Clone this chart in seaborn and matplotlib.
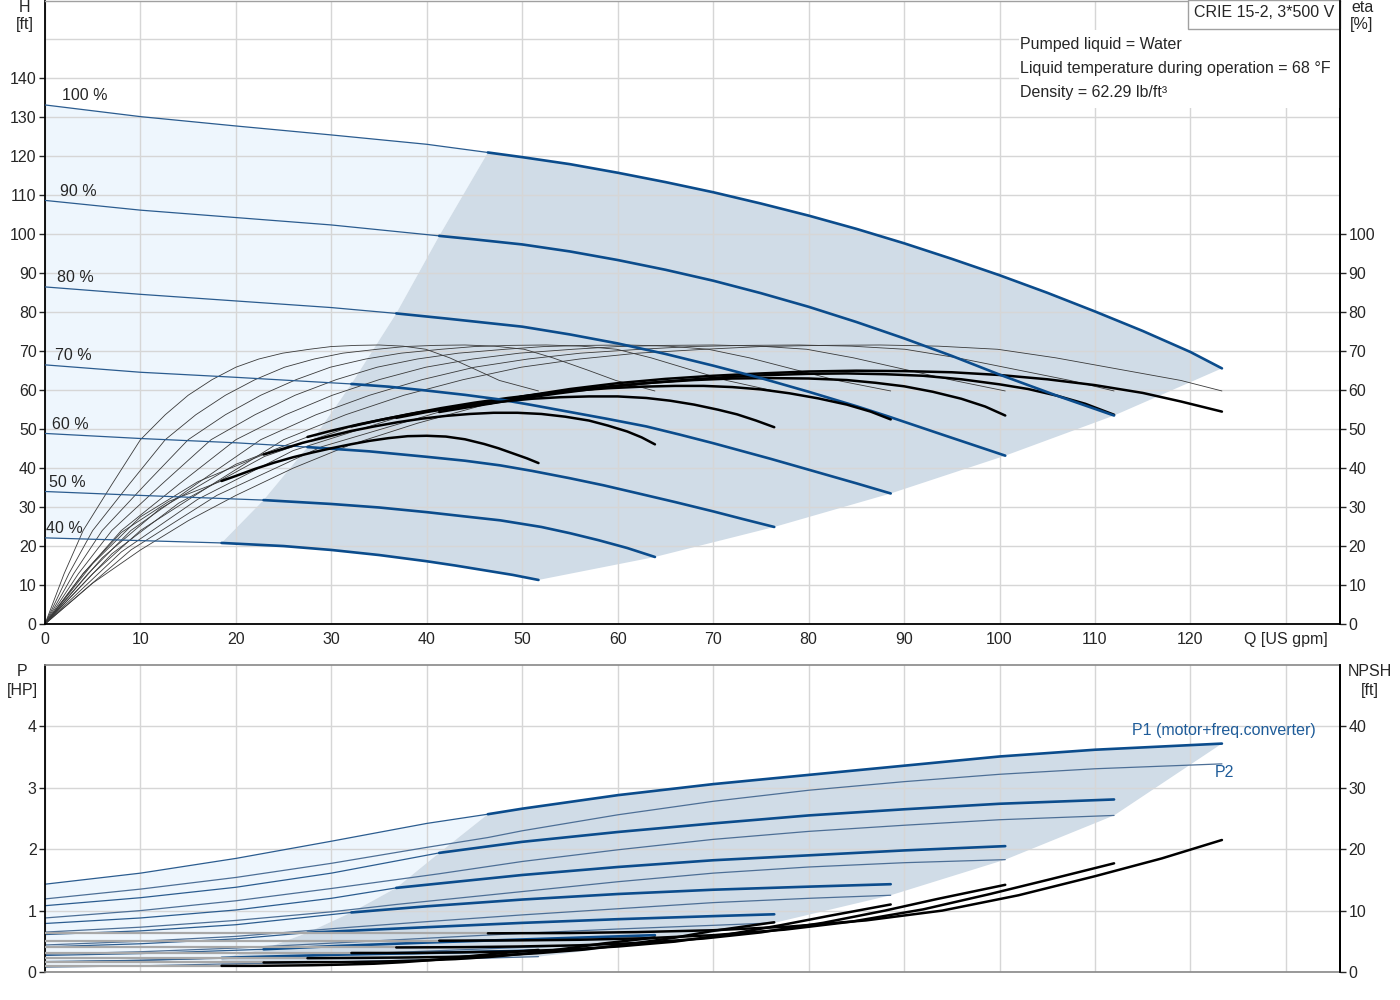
import numpy as np
import seaborn as sns
import matplotlib.pyplot as plt
from matplotlib.patches import Rectangle

# speed curves, from 100 % down to 40 %
speeds = ["100 %", "90 %", "80 %", "70 %", "60 %", "50 %", "40 %"]
q_min = [46.4, 41.3, 36.8, 32.1, 27.5, 22.9, 18.5]

# H [ft] vs Q [US gpm]
qh_q = [
    [0, 10, 20, 30, 40, 46.4, 50, 55, 60, 65, 70, 75, 80, 85, 90, 95, 100, 105, 110, 115, 120, 123.3],
    [0, 10, 20, 30, 41.3, 45, 50, 55, 60, 65, 70, 75, 80, 85, 90, 95, 100, 106, 112],
    [0, 10, 20, 30, 36.8, 42, 50, 55, 60, 65, 70, 75, 80, 85, 88.3, 94, 100.6],
    [0, 10, 20, 32.1, 36, 40, 44, 47.7, 51, 55, 59, 63, 66.5, 70, 73, 76, 79, 82, 85, 88.6],
    [0, 10, 20, 27.5, 34, 40, 44, 47.7, 51, 55, 58.5, 62, 66, 70, 73, 76.4],
    [0, 10, 22.9, 30, 35, 40, 44, 47.7, 52, 55, 58, 61, 63.9],
    [0, 10, 18.5, 25, 30, 35, 40, 43, 46, 49, 51.7],
]
qh_h = [
    [133.2, 130.2, 127.8, 125.5, 123.1, 121.0, 119.8, 118.0, 115.8, 113.4, 110.8, 107.9, 104.8,
     101.4, 97.7, 93.7, 89.5, 85.0, 80.2, 75.2, 69.8, 65.6],
    [108.7, 106.2, 104.3, 102.4, 99.6, 98.7, 97.4, 95.6, 93.4, 90.9, 88.1, 84.9, 81.4, 77.5,
     73.3, 68.8, 64.0, 58.6, 53.5],
    [86.5, 84.6, 82.9, 81.2, 79.7, 78.4, 76.3, 74.3, 72.0, 69.3, 66.3, 63.1, 59.6, 55.9, 53.3,
     48.6, 43.2],
    [66.5, 64.6, 63.3, 61.6, 60.9, 59.9, 58.8, 57.6, 56.2, 54.4, 52.6, 50.7, 48.6, 46.4, 44.4,
     42.4, 40.3, 38.2, 36.1, 33.5],
    [48.9, 47.6, 46.5, 45.4, 44.3, 42.9, 41.9, 40.7, 39.3, 37.4, 35.6, 33.6, 31.3, 28.9, 27.0, 24.9],
    [34.0, 33.0, 31.8, 30.8, 29.9, 28.7, 27.6, 26.6, 24.9, 23.3, 21.5, 19.5, 17.2],
    [22.1, 21.4, 20.8, 20.0, 19.0, 17.7, 16.1, 15.0, 13.8, 12.6, 11.3],
]

# pump efficiency [%] (thin curves), one Q list per speed
etap_q = [
    [0, 5, 10, 17.5, 25, 31.5, 37.6, 43.8, 49.9, 56, 62.1, 69.1, 75, 81.4, 87.5, 93.6, 99.8,
     105.9, 112.9, 119, 123.3],
    [0, 4.5, 9, 15.8, 22.6, 28.4, 34, 39.5, 45, 50.6, 56.1, 62.4, 67.7, 73.5, 79, 84.5, 90.1,
     95.6, 101.9, 107.4, 112],
    [0, 4, 8, 14, 20, 25.2, 30.1, 35, 39.9, 44.8, 49.7, 55.3, 60, 65.1, 70, 74.9, 79.8, 84.7,
     90.3, 95.2, 100.6],
    [0, 3.5, 7, 12.2, 17.4, 22, 26.2, 30.5, 34.8, 39, 43.3, 48.2, 52.3, 56.7, 61, 65.3, 69.5,
     73.8, 78.7, 83, 88.6],
    [0, 3, 6, 10.5, 15, 18.9, 22.6, 26.3, 29.9, 33.6, 37.3, 41.5, 45, 48.8, 52.5, 56.2, 59.9,
     63.5, 67.7, 71.4, 76.4],
    [0, 2.5, 5, 8.8, 12.6, 15.8, 18.9, 22, 25.1, 28.2, 31.2, 34.8, 37.7, 40.9, 44, 47.1, 50.2,
     53.2, 56.8, 59.8, 63.9],
    [0, 2, 4, 7, 10, 12.6, 15, 17.5, 20, 22.4, 24.9, 27.7, 30, 32.6, 35, 37.5, 39.9, 42.4,
     45.2, 47.6, 51.7],
]
etap = [0, 12.9, 24.0, 35.8, 47.3, 53.7, 58.7, 62.7, 65.9, 68.0, 69.5, 70.5, 71.2, 71.5, 71.6,
        71.3, 70.5, 68.3, 65.2, 62.5, 59.8]

# total efficiency [%] (bold inside the operating range)
etat_q = [
    [0, 5, 10, 15, 20, 26, 32, 39, 46.4, 50, 55, 60, 65, 70, 75, 80, 85, 90, 95, 100, 105, 110,
     115, 119, 123.3],
    [0, 9, 18, 29, 41.3, 45, 49, 53.5, 58, 62.5, 67, 71.5, 76, 80, 84, 88, 92, 96, 100, 103, 106,
     109, 112],
    [0, 8, 16, 26, 36.8, 40, 44, 48, 52, 56, 60, 64, 68, 72, 76, 80, 84, 87, 90, 93, 96, 98.5, 100.6],
    [0, 7, 14, 23, 32.1, 35, 38, 41.5, 45, 48.5, 52, 55.5, 59, 62.5, 66, 69, 72, 75, 78, 81, 84,
     86.5, 88.6],
    [0, 6, 12, 20, 27.5, 30, 33, 36, 39, 42, 45, 48, 51, 54, 57, 60, 63, 65.5, 68, 70.5, 72.5,
     74.5, 76.4],
    [0, 5, 10, 16, 22.9, 25, 27, 29.5, 32, 34.5, 37, 39.5, 42, 44.5, 47, 49.5, 52, 54.5, 57, 59,
     61, 62.5, 63.9],
    [0, 4, 8, 13, 18.5, 20, 22, 24, 26, 28, 30, 32, 34, 36, 38, 40, 42, 44, 46, 47.5, 49, 50.5,
     51.7],
]
etat = [
    [0, 10.5, 19, 26.5, 33, 40, 46, 51.5, 56.5, 58.4, 60.3, 61.8, 62.9, 63.7, 64.3, 64.8, 65,
     64.9, 64.6, 63.9, 62.8, 61.3, 59.3, 57.1, 54.5],
    [0, 19, 33, 45.5, 54.4, 55.9, 57.5, 59.1, 60.5, 61.7, 62.6, 63.4, 63.9, 64.2, 64.3, 64.1,
     63.7, 62.8, 61.5, 60.3, 58.6, 56.5, 53.7],
    [0, 18.5, 32, 44.5, 52.9, 54.4, 56, 57.6, 59, 60.2, 61.2, 62, 62.6, 63, 63.1, 63, 62.6, 61.9,
     61, 59.6, 57.8, 55.8, 53.5],
    [0, 18, 31, 43, 50.7, 52.3, 53.8, 55.4, 56.8, 58, 59, 59.9, 60.5, 60.9, 61.1, 61.1, 60.8,
     60.2, 59.2, 57.9, 56.3, 54.5, 52.5],
    [0, 17, 29.5, 41, 48, 49.6, 51.3, 52.8, 54.2, 55.3, 56.3, 57.1, 57.8, 58.2, 58.4, 58.4, 58,
     57.3, 56.3, 55, 53.8, 52.2, 50.5],
    [0, 15.5, 27.5, 36.5, 43.5, 45, 46.5, 48, 49.5, 50.7, 51.8, 52.7, 53.4, 53.9, 54.2, 54.2,
     53.9, 53.2, 52.2, 50.9, 49.4, 47.9, 46.1],
    [0, 13, 23.5, 31.5, 36.7, 38, 39.8, 41.4, 42.8, 44, 45.1, 46.1, 47, 47.7, 48.2, 48.3, 48.1,
     47.4, 46.2, 45.1, 43.8, 42.5, 41.3],
]

# power [HP]
p_q = [
    [0, 10, 20, 30, 40, 46.4, 50, 60, 70, 80, 90, 100, 110, 123.3],
    [0, 10, 20, 30, 41.3, 50, 60, 70, 80, 90, 100, 112],
    [0, 10, 20, 30, 36.8, 50, 60, 70, 80, 90, 100.6],
    [0, 10, 20, 32.1, 40, 50, 60, 70, 80, 88.6],
    [0, 10, 20, 27.5, 40, 50, 60, 70, 76.4],
    [0, 10, 22.9, 30, 40, 50, 63.9],
    [0, 10, 18.5, 30, 40, 51.7],
]
p1 = [
    [1.43, 1.61, 1.85, 2.13, 2.42, 2.57, 2.66, 2.88, 3.06, 3.21, 3.36, 3.51, 3.62, 3.72],
    [1.08, 1.21, 1.38, 1.61, 1.94, 2.12, 2.28, 2.42, 2.55, 2.65, 2.74, 2.81],
    [0.79, 0.88, 1.01, 1.20, 1.37, 1.58, 1.71, 1.82, 1.90, 1.98, 2.05],
    [0.61, 0.67, 0.77, 0.97, 1.07, 1.18, 1.27, 1.34, 1.39, 1.43],
    [0.41, 0.46, 0.54, 0.64, 0.73, 0.80, 0.86, 0.91, 0.94],
    [0.27, 0.30, 0.37, 0.42, 0.48, 0.53, 0.60],
    [0.17, 0.19, 0.23, 0.28, 0.31, 0.35],
]
p2 = [
    [1.19, 1.35, 1.54, 1.77, 2.03, 2.19, 2.30, 2.56, 2.78, 2.96, 3.10, 3.22, 3.31, 3.39],
    [0.88, 1.00, 1.16, 1.36, 1.60, 1.80, 1.99, 2.16, 2.29, 2.39, 2.48, 2.55],
    [0.65, 0.73, 0.84, 0.98, 1.10, 1.31, 1.47, 1.61, 1.71, 1.78, 1.83],
    [0.44, 0.50, 0.58, 0.73, 0.82, 0.93, 1.03, 1.13, 1.20, 1.25],
    [0.29, 0.33, 0.39, 0.45, 0.55, 0.63, 0.70, 0.76, 0.80],
    [0.16, 0.19, 0.24, 0.28, 0.34, 0.40, 0.48],
    [0.08, 0.10, 0.13, 0.16, 0.20, 0.25],
]

# NPSH [ft]
npsh_q = [
    [0, 46.4, 55, 62, 70, 78, 86, 94, 102, 110, 117, 123.3],
    [0, 41.3, 49.5, 56, 63, 70, 77.5, 84.5, 92, 99, 105.3, 112],
    [0, 36.8, 44, 49.5, 56, 62.5, 69, 75, 81.5, 88, 93.5, 100.6],
    [0, 32.1, 38.5, 43.5, 49, 54.5, 60, 66, 71.5, 77, 82, 88.6],
    [0, 27.5, 33, 37, 42, 47, 51.5, 56.5, 61, 66, 70, 76.4],
    [0, 22.9, 27.5, 31, 35, 39, 43, 47, 51, 55, 58.5, 63.9],
    [0, 18.5, 22, 25, 28, 31, 34.5, 37.5, 41, 44, 47, 51.7],
]
npsh = [
    [6.3, 6.3, 6.35, 6.5, 6.8, 7.4, 8.4, 10.0, 12.5, 15.6, 18.5, 21.5],
    [5.1, 5.1, 5.15, 5.25, 5.5, 6.0, 6.9, 8.2, 10.2, 12.7, 15.1, 17.7],
    [4.0, 4.0, 4.05, 4.15, 4.35, 4.75, 5.45, 6.45, 8.0, 10.0, 11.9, 14.2],
    [3.1, 3.1, 3.1, 3.2, 3.35, 3.65, 4.15, 4.95, 6.1, 7.6, 9.1, 11.0],
    [2.25, 2.25, 2.3, 2.35, 2.45, 2.65, 3.05, 3.65, 4.5, 5.6, 6.7, 8.1],
    [1.55, 1.55, 1.6, 1.6, 1.7, 1.85, 2.1, 2.5, 3.1, 3.9, 4.65, 5.6],
    [1.0, 1.0, 1.0, 1.05, 1.1, 1.2, 1.35, 1.6, 2.0, 2.5, 2.95, 3.6],
]

info_lines = ["Pumped liquid = Water",
              "Liquid temperature during operation = 68 °F",
              "Density = 62.29 lb/ft³"]
model = "CRIE 15-2, 3*500 V"

BLUE = "#0b4c8c"
THIN_BLUE = "#2b5c8f"
P2_BLUE = "#4d6f96"
LIGHT = "#eef6fd"
DARK = "#d0dce7"
GRID = "#d6d6d6"

sns.set_style("white")
plt.rcParams["font.family"] = ["Liberation Sans", "DejaVu Sans"]
plt.rcParams["font.size"] = 11.5

fig = plt.figure(figsize=(14, 10), dpi=100)
ax = fig.add_axes([45 / 1400, 0.376, 1295 / 1400, 0.6235])
axb = fig.add_axes([45 / 1400, 0.028, 1295 / 1400, 0.307])

QMAX = 135.67


def split(q, y, qm):
    q = np.asarray(q, float)
    y = np.asarray(y, float)
    lo = q <= qm + 1e-9
    hi = q >= qm - 1e-9
    return (q[lo], y[lo]), (q[hi], y[hi])


def line(a, q, y, color, lw, z=2):
    sns.lineplot(x=q, y=y, ax=a, color=color, lw=lw, sort=False,
                 estimator=None, legend=False, zorder=z)


# ---------------- top panel: H and eta ----------------
top_lo, top_hi = split(qh_q[0], qh_h[0], q_min[0])
bot_lo, bot_hi = split(qh_q[-1], qh_h[-1], q_min[-1])
min_pts = [split(qh_q[i], qh_h[i], q_min[i])[1] for i in range(7)]
min_x = [m[0][0] for m in min_pts]
min_y = [m[1][0] for m in min_pts]
end_x = [qh_q[i][-1] for i in range(7)]
end_y = [qh_h[i][-1] for i in range(7)]

lx = list(top_lo[0]) + min_x[1:] + list(bot_lo[0][::-1])
ly = list(top_lo[1]) + min_y[1:] + list(bot_lo[1][::-1])
ax.fill(lx, ly, color=LIGHT, lw=0, zorder=0.2)
dx = list(top_hi[0]) + end_x[1:] + list(bot_hi[0][::-1]) + min_x[::-1][1:]
dy = list(top_hi[1]) + end_y[1:] + list(bot_hi[1][::-1]) + min_y[::-1][1:]
ax.fill(dx, dy, color=DARK, lw=0, zorder=0.2)

for i in range(7):
    line(ax, etap_q[i], etap, "#3a3a3a", 0.6)
    (ql, el), (qh, eh) = split(etat_q[i], etat[i], q_min[i])
    line(ax, ql, el, "#3a3a3a", 0.6)
    line(ax, qh, eh, "black", 1.8, z=3)
    (ql, hl), (qh, hh) = split(qh_q[i], qh_h[i], q_min[i])
    line(ax, ql, hl, THIN_BLUE, 0.9, z=3)
    line(ax, qh, hh, BLUE, 1.9, z=3)
    ax.text(1.9 - 0.3 * i if i else 1.8, qh_h[i][0] + 0.4, speeds[i],
            ha="left", va="bottom", fontsize=11.5, zorder=6)

ax.set_xlim(0, QMAX)
ax.set_ylim(0, 160)
ax.set_xticks(range(0, 140, 10))
ax.set_xticklabels([str(v) for v in range(0, 130, 10)] + ["Q [US gpm]"])
ax.set_yticks(range(0, 150, 10))
ax.set_axisbelow(True)
ax.grid(True, color=GRID, lw=1.0)
ax.axhline(150, color=GRID, lw=1.0, zorder=0.5)
ax.tick_params(axis="both", direction="out", length=4, width=1, pad=2,
               labelsize=11.5)
ax.set_xlabel("")
ax.set_ylabel("")
for s in ["left", "bottom", "right"]:
    ax.spines[s].set_color("black")
    ax.spines[s].set_linewidth(1.3)
ax.spines["top"].set_color("#a0a0a0")
ax.spines["top"].set_linewidth(1)

axr = ax.twinx()
axr.set_ylim(0, 160)
axr.set_yticks(range(0, 110, 10))
axr.tick_params(axis="y", direction="out", length=4, width=1, pad=2,
                labelsize=11.5)
for s in ["left", "bottom", "top"]:
    axr.spines[s].set_visible(False)
axr.spines["right"].set_color("black")
axr.spines["right"].set_linewidth(1.3)

# info boxes
x0 = (1019 - 45) / 1295
ax.add_patch(Rectangle((x0, 1 - 108 / 624), 1 - x0, (108 - 30) / 624,
                       transform=ax.transAxes, facecolor="white",
                       edgecolor="none", zorder=4))
for k, t in enumerate(info_lines):
    ax.text((1020 - 45) / 1295, 1 - (44 + 24 * k) / 624, t,
            transform=ax.transAxes, ha="left", va="center",
            fontsize=11.5, zorder=6)
bx = (1188 - 45) / 1295
ax.add_patch(Rectangle((bx, 1 - 29 / 624), 1 - bx, 29 / 624,
                       transform=ax.transAxes, facecolor="white",
                       edgecolor="#a0a0a0", lw=1, zorder=5, clip_on=False))
ax.text((1194 - 45) / 1295, 1 - 12 / 624, model, transform=ax.transAxes,
        ha="left", va="center", fontsize=11.5, zorder=6)

# ---------------- bottom panel: P and NPSH ----------------
t_lo, t_hi = split(p_q[0], p1[0], q_min[0])
b_lo, b_hi = split(p_q[-1], p2[-1], q_min[-1])
pmin = [split(p_q[i], p1[i], q_min[i])[1] for i in range(7)]
pmin_x = [m[0][0] for m in pmin]
pmin_y = [m[1][0] for m in pmin]
p2end_x = [p_q[i][-1] for i in range(1, 7)]
p2end_y = [p2[i][-1] for i in range(1, 7)]

lx = list(t_lo[0]) + pmin_x[1:] + list(b_lo[0][::-1])
ly = list(t_lo[1]) + pmin_y[1:] + list(b_lo[1][::-1])
axb.fill(lx, ly, color=LIGHT, lw=0, zorder=0.2)
dx = list(t_hi[0]) + p2end_x + list(b_hi[0][::-1]) + pmin_x[::-1]
dy = list(t_hi[1]) + p2end_y + list(b_hi[1][::-1]) + pmin_y[::-1]
axb.fill(dx, dy, color=DARK, lw=0, zorder=0.2)

for i in range(7):
    line(axb, p_q[i], p2[i], P2_BLUE, 0.9)
    (ql, pl), (qh, ph) = split(p_q[i], p1[i], q_min[i])
    line(axb, ql, pl, THIN_BLUE, 0.9)
    line(axb, qh, ph, BLUE, 1.9, z=3)

axb.set_xlim(0, QMAX)
axb.set_ylim(0, 5)
axb.set_xticks(range(0, 140, 10))
axb.set_xticklabels([])
axb.set_yticks(range(0, 5))
axb.set_axisbelow(True)
axb.grid(True, color=GRID, lw=1.0)
axb.tick_params(axis="x", length=0)
axb.tick_params(axis="y", direction="out", length=4, width=1, pad=2,
                labelsize=11.5)
axb.set_xlabel("")
axb.set_ylabel("")
axb.spines["left"].set_color("black")
axb.spines["left"].set_linewidth(1.3)
for s in ["top", "bottom"]:
    axb.spines[s].set_color("#888888")
    axb.spines[s].set_linewidth(1.2)
axb.spines["right"].set_color("black")
axb.spines["right"].set_linewidth(1.3)

axn = axb.twinx()
for i in range(7):
    (ql, nl), (qh, nh) = split(npsh_q[i], npsh[i], q_min[i])
    line(axn, ql, nl, "#a8a8a8", 1.6)
    line(axn, qh, nh, "black", 1.8, z=3)
axn.set_xlim(0, QMAX)
axn.set_ylim(0, 50)
axn.set_yticks(range(0, 50, 10))
axn.set_ylabel("")
axn.tick_params(axis="y", direction="out", length=4, width=1, pad=2,
                labelsize=11.5)
for s in ["left", "bottom", "top"]:
    axn.spines[s].set_visible(False)
axn.spines["right"].set_color("black")
axn.spines["right"].set_linewidth(1.3)

axb.text(113.9, 3.94, "P1 (motor+freq.converter)", color="#1f5c99",
         ha="left", va="center", fontsize=11.5, zorder=6)
axb.text(122.5, 3.25, "P2", color="#1f5c99", ha="left", va="center",
         fontsize=11.5, zorder=6)

# axis captions
for x, y, t in [(25, 8, "H"), (25, 25, "[ft]"), (1362, 8, "eta"),
                (1362, 25, "[%]"), (22, 672, "P"), (22, 690, "[HP]"),
                (1370, 672, "NPSH"), (1370, 690, "[ft]")]:
    fig.text(x / 1400, 1 - y / 1000, t, ha="center", va="center",
             fontsize=11.5)

fig.savefig("out.png", dpi=100, facecolor="white")
